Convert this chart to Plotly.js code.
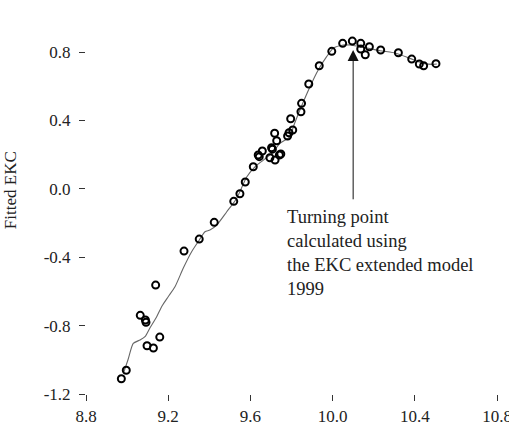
<!DOCTYPE html>
<html>
<head>
<meta charset="utf-8">
<script src="https://cdn.plot.ly/plotly-3.0.1.min.js"></script>
<style>
  html, body { margin: 0; padding: 0; background: #fff; }
  #chart { width: 509px; height: 448px; }
</style>
</head>
<body>
<div id="chart"></div>
<script>
// Observed (income, fitted EKC) pairs
const obsIncome = [8.972, 8.996, 9.064, 9.089, 9.092, 9.097, 9.128, 9.139, 9.159,
  9.277, 9.351, 9.424, 9.519, 9.549, 9.575, 9.614, 9.638, 9.643, 9.658, 9.695,
  9.703, 9.707, 9.718, 9.728, 9.720, 9.741, 9.748, 9.781, 9.788, 9.806, 9.796,
  9.846, 9.849, 9.884, 9.935, 9.996, 10.049, 10.096, 10.137, 10.137, 10.179,
  10.159, 10.234, 10.320, 10.385, 10.422, 10.443, 10.503];
const obsEKC = [-1.111, -1.061, -0.740, -0.767, -0.781, -0.918, -0.931, -0.563, -0.867,
  -0.364, -0.294, -0.196, -0.073, -0.029, 0.040, 0.129, 0.198, 0.188, 0.221, 0.182,
  0.241, 0.232, 0.325, 0.281, 0.168, 0.198, 0.204, 0.309, 0.328, 0.344, 0.410,
  0.451, 0.500, 0.613, 0.720, 0.804, 0.851, 0.864, 0.851, 0.818, 0.831,
  0.784, 0.812, 0.796, 0.759, 0.730, 0.720, 0.732];

// Smoothed fitted curve
const curveIncome = [8.982, 9.004, 9.030, 9.063, 9.087, 9.111, 9.144, 9.170, 9.200,
  9.233, 9.273, 9.314, 9.346, 9.379, 9.403, 9.436, 9.485, 9.533, 9.582, 9.622,
  9.663, 9.704, 9.744, 9.793, 9.809, 9.841, 9.890, 9.930, 9.971, 10.003, 10.052,
  10.085, 10.149, 10.231, 10.312, 10.377, 10.441, 10.490, 10.507];
const curveEKC = [-1.079, -1.001, -0.904, -0.884, -0.865, -0.814, -0.748, -0.685, -0.631,
  -0.573, -0.465, -0.368, -0.309, -0.251, -0.241, -0.212, -0.134, -0.056, 0.069, 0.129,
  0.168, 0.208, 0.266, 0.305, 0.363, 0.461, 0.597, 0.695, 0.773, 0.822, 0.841,
  0.841, 0.828, 0.808, 0.792, 0.763, 0.734, 0.728, 0.730];

// Axis ticks
const xTickVals = [8.8, 9.2, 9.6, 10.0, 10.4, 10.8];
const xTickText = ["8.8", "9.2", "9.6", "10.0", "10.4", "10.8"];
const yTickVals = [-1.2, -0.8, -0.4, 0.0, 0.4, 0.8];
const yTickText = ["-1.2", "-0.8", "-0.4", "0.0", "0.4", "0.8"];

// Turning point marker
const turnIncome = 10.1;
const turnTipEKC = 0.812;
const turnTailEKC = -0.07;
const noteLines = ["Turning point", "calculated using", "the EKC extended model", "1999"];

const serif = 'Liberation Serif, Times New Roman, serif';

const traces = [
  {
    x: curveIncome, y: curveEKC, type: 'scatter', mode: 'lines',
    line: { color: '#666', width: 1.1, shape: 'spline', smoothing: 0.6 },
    hoverinfo: 'skip'
  },
  {
    x: obsIncome, y: obsEKC, type: 'scatter', mode: 'markers',
    marker: { symbol: 'circle-open', size: 7, color: '#000', line: { width: 2, color: '#000' } },
    cliponaxis: false
  }
];

const tickFont = { family: serif, size: 17, color: '#222' };

const layout = {
  width: 509, height: 448,
  margin: { l: 86, r: 12, t: 30, b: 54, pad: 0 },
  paper_bgcolor: '#fff', plot_bgcolor: '#fff',
  showlegend: false,
  font: { family: serif, size: 17, color: '#222' },
  xaxis: {
    range: [8.8, 10.8], tickvals: xTickVals, ticktext: xTickText,
    showgrid: false, zeroline: false, showline: false,
    ticks: 'outside', ticklen: 6, tickwidth: 1, tickcolor: '#333',
    ticklabeloverflow: 'allow', ticklabelstandoff: 1,
    automargin: false, tickfont: tickFont
  },
  yaxis: {
    range: [-1.2, 0.929], tickvals: yTickVals, ticktext: yTickText,
    showgrid: false, zeroline: false, showline: false,
    ticks: 'outside', ticklen: 6, tickwidth: 1, tickcolor: '#333',
    ticklabeloverflow: 'allow', ticklabelstandoff: 5,
    automargin: false, tickfont: tickFont
  },
  annotations: [
    {
      xref: 'x', yref: 'y', x: turnIncome, y: turnTipEKC,
      axref: 'x', ayref: 'y', ax: turnIncome, ay: turnTailEKC,
      text: '', showarrow: true, arrowhead: 2, arrowsize: 2.2, arrowwidth: 1,
      arrowcolor: '#111'
    },
    {
      xref: 'x', yref: 'y', x: 9.768, y: -0.095, xanchor: 'left', yanchor: 'top',
      align: 'left', showarrow: false, text: noteLines.join('<br>'),
      font: { family: serif, size: 18.5, color: '#222' }
    },
    {
      xref: 'paper', yref: 'paper', x: -0.185, y: 0.56, xanchor: 'center', yanchor: 'middle',
      textangle: -90, showarrow: false, text: 'Fitted EKC',
      font: { family: serif, size: 17, color: '#222' }
    }
  ]
};

Plotly.newPlot('chart', traces, layout, { staticPlot: true, displayModeBar: false });
</script>
</body>
</html>
